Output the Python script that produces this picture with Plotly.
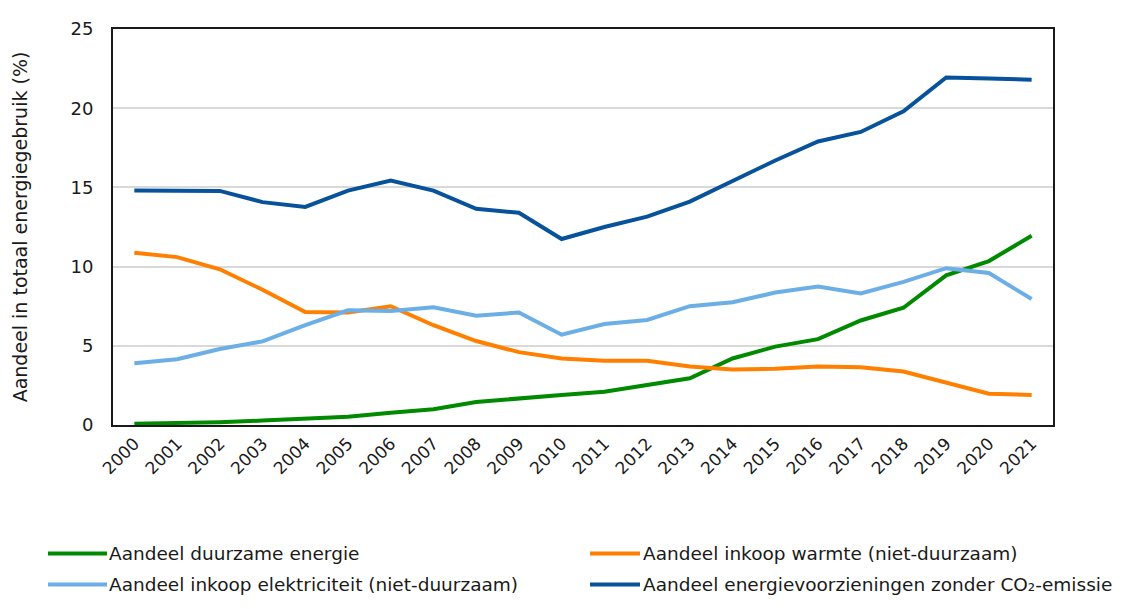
import plotly.graph_objects as go

years = [str(y) for y in range(2000, 2022)]

duurzaam = [0.08, 0.1, 0.18, 0.28, 0.4, 0.52, 0.78, 1.0, 1.45, 1.7, 1.9, 2.1, 2.5, 2.95,
            4.2, 4.95, 5.42, 6.6, 7.4, 9.45, 10.35, 11.95]
warmte = [10.88, 10.6, 9.83, 8.54, 7.13, 7.1, 7.5, 6.3, 5.3, 4.6, 4.2, 4.05, 4.05, 3.7,
          3.5, 3.55, 3.7, 3.65, 3.38, 2.7, 1.97, 1.9]
elektriciteit = [3.9, 4.15, 4.8, 5.28, 6.3, 7.24, 7.2, 7.43, 6.9, 7.1, 5.7, 6.38, 6.63, 7.5,
                 7.75, 8.36, 8.74, 8.3, 9.04, 9.9, 9.6, 7.95]
zonder_co2 = [14.81, 14.8, 14.78, 14.07, 13.77, 14.8, 15.43, 14.8, 13.65, 13.4, 11.74, 12.5,
              13.15, 14.1, 15.4, 16.7, 17.9, 18.5, 19.8, 21.94, 21.88, 21.8]

series_names = ["Aandeel duurzame energie",
                "Aandeel inkoop warmte (niet-duurzaam)",
                "Aandeel inkoop elektriciteit (niet-duurzaam)",
                "Aandeel energievoorzieningen zonder CO₂-emissie"]
series_values = [duurzaam, warmte, elektriciteit, zonder_co2]
colors = ["#008a00", "#ff7f00", "#6caee6", "#08529c"]

fig = go.Figure()
for name, vals, col in zip(series_names, series_values, colors):
    fig.add_trace(go.Scatter(x=years, y=vals, mode="lines", name=name,
                             line=dict(color=col, width=4), showlegend=False))

FONT = "DejaVu Sans, Verdana, sans-serif"

# manual legend (2 columns x 2 rows), positions in page pixels
L, R, T, B = 113, 1053, 18, 425
def px(x):
    return (x - L) / (R - L)
def py(y):
    return (B - y) / (B - T)

legend_pos = [(48, 107, 109, 557), (590, 640, 643, 557),
              (48, 107, 109, 589), (590, 640, 643, 589)]
for (x0, x1, xt, yy), name, col in zip(legend_pos, series_names, colors):
    fig.add_shape(type="line", xref="paper", yref="paper",
                  x0=px(x0), x1=px(x1), y0=py(yy), y1=py(yy),
                  line=dict(color=col, width=4))
    fig.add_annotation(xref="paper", yref="paper", x=px(xt), y=py(yy),
                       text=name, showarrow=False, xanchor="left", yanchor="middle",
                       xshift=-2, font=dict(family=FONT, size=18.5, color="#1a1a1a"))

# page body has an 8px margin; compensate
fig.update_layout(
    width=1110, height=593,
    margin=dict(l=105, r=65, t=10, b=176),
    paper_bgcolor="white", plot_bgcolor="white",
    font=dict(family=FONT, color="#1a1a1a"),
)
fig.update_xaxes(type="category", range=[-0.5, 21.5], tickangle=-45,
                 tickfont=dict(family=FONT, size=17, color="#1a1a1a"),
                 showgrid=False, showline=True, linecolor="#1a1a1a", linewidth=2,
                 mirror=True, ticks="", ticklen=0)
fig.update_yaxes(range=[0, 25], tickvals=[0, 5, 10, 15, 20, 25],
                 tickfont=dict(family=FONT, size=18, color="#1a1a1a"),
                 showgrid=True, gridcolor="#d9d9d9", gridwidth=1.5,
                 showline=True, linecolor="#1a1a1a", linewidth=2, mirror=True,
                 zeroline=False, ticks="", ticklabelstandoff=14,
                 title=dict(text="Aandeel in totaal energiegebruik (%)",
                            font=dict(family=FONT, size=19, color="#1a1a1a"), standoff=38))

fig.write_html("out.html")
